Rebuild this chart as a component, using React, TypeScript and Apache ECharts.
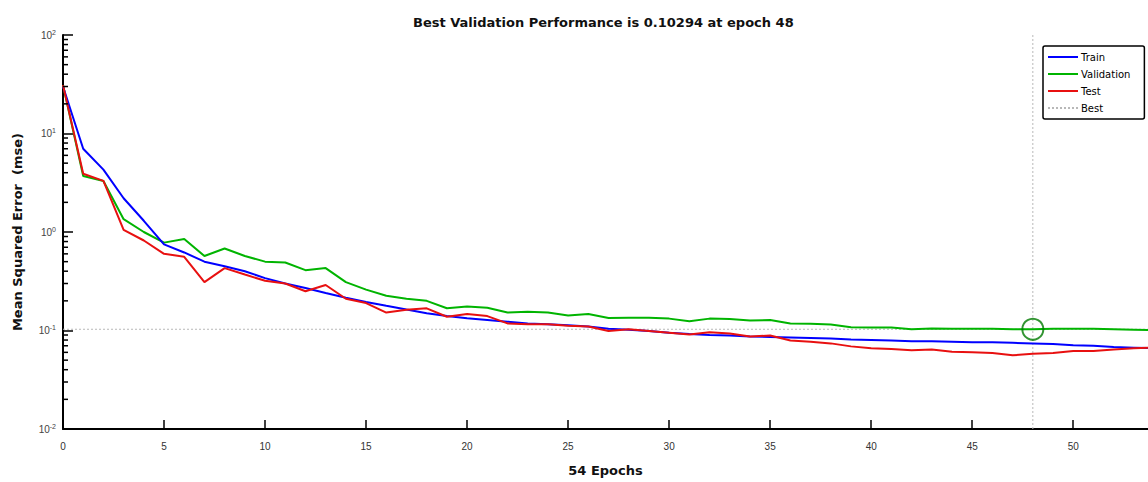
import React, { useEffect, useRef } from "react";
import * as echarts from "echarts";

const titleText = "Best Validation Performance is 0.10294 at epoch 48";
const xName = "54 Epochs";
const yName = "Mean Squared Error  (mse)";
const legendNames = ["Train", "Validation", "Test", "Best"];

const epochs = Array.from({ length: 55 }, (_, i) => i);

const train = [
  30, 7.0, 4.3, 2.2, 1.3, 0.75, 0.62, 0.5, 0.45, 0.4,
  0.34, 0.3, 0.27, 0.24, 0.215, 0.195, 0.178, 0.163, 0.15, 0.14,
  0.133, 0.128, 0.123, 0.118, 0.116, 0.113, 0.11, 0.104, 0.102, 0.099,
  0.095, 0.092, 0.09, 0.089, 0.087, 0.086, 0.085, 0.084, 0.083, 0.081,
  0.08, 0.079, 0.078, 0.078, 0.077, 0.076, 0.076, 0.075, 0.074, 0.073,
  0.071, 0.07, 0.068, 0.067, 0.066,
];

const validation = [
  31, 3.7, 3.3, 1.35, 1.0, 0.78, 0.85, 0.57, 0.68, 0.57,
  0.5, 0.49, 0.41, 0.43, 0.31, 0.26, 0.225, 0.21, 0.2, 0.168,
  0.175, 0.17, 0.152, 0.155, 0.152, 0.142, 0.147, 0.134, 0.135, 0.135,
  0.132, 0.124, 0.132, 0.131, 0.126, 0.128, 0.118, 0.117, 0.115, 0.108,
  0.107, 0.107, 0.103, 0.105, 0.104, 0.104, 0.104, 0.103, 0.10294, 0.104,
  0.104, 0.104, 0.103, 0.102, 0.101,
];

const test = [
  31, 3.9, 3.3, 1.05, 0.82, 0.6, 0.56, 0.31, 0.43, 0.37,
  0.32, 0.3, 0.25, 0.29, 0.21, 0.19, 0.152, 0.162, 0.168, 0.138,
  0.147, 0.14, 0.118, 0.116, 0.116, 0.112, 0.11, 0.099, 0.103, 0.099,
  0.095, 0.091, 0.096, 0.093, 0.087, 0.089, 0.079, 0.077, 0.074, 0.069,
  0.066, 0.065, 0.063, 0.064, 0.061, 0.06, 0.059, 0.056, 0.058, 0.059,
  0.062, 0.062, 0.064, 0.066, 0.067,
];

const bestEpoch = 48;
const bestValue = 0.10294;
const xMin = 0;
const xMax = 53.7; // visible part of the 0–54 epoch axis (the right end is cropped)
const yMin = 0.01;
const yMax = 100;

const minorTickValues: number[] = [];
for (let e = -2; e < 2; e++) {
  for (let m = 2; m <= 9; m++) minorTickValues.push(m * Math.pow(10, e));
}

const dottedIcon =
  "path://M0,0h2v2h-2zM4,0h2v2h-2zM8,0h2v2h-2zM12,0h2v2h-2zM16,0h2v2h-2zM20,0h2v2h-2zM24,0h2v2h-2zM28,0h2v2h-2z";

export default function App() {
  const ref = useRef<HTMLDivElement>(null);
  useEffect(() => {
    document.body.style.margin = "0";
    if (!ref.current) return;
    const chart = echarts.init(ref.current, undefined, { renderer: "svg" });
    const pair = (arr: number[]) => arr.map((v, i) => [epochs[i], v]);
    const font = "DejaVu Sans, Verdana, sans-serif";
    const tickFont = "Liberation Sans, Arial, sans-serif";
    chart.setOption({
      animation: false,
      backgroundColor: "#ffffff",
      textStyle: { fontFamily: font },
      title: {
        text: titleText,
        left: 408,
        top: 11,
        textStyle: { fontSize: 13, fontWeight: "bold", color: "#111", fontFamily: font },
      },
      legend: {
        orient: "vertical",
        left: 1043,
        top: 46,
        data: [
          { name: legendNames[0], icon: "rect" },
          { name: legendNames[1], icon: "rect" },
          { name: legendNames[2], icon: "rect" },
          { name: legendNames[3], icon: dottedIcon },
        ],
        itemWidth: 30,
        itemHeight: 2,
        itemGap: 5,
        padding: [5, 14, 5, 5],
        borderColor: "#000",
        borderWidth: 1.5,
        borderRadius: 2,
        backgroundColor: "#fff",
        textStyle: { fontSize: 10, lineHeight: 12, color: "#000", fontFamily: font, padding: [0, 0, 0, -2] },
      },
      grid: { left: 63, top: 35, right: 0, height: 400, containLabel: false },
      xAxis: {
        type: "value",
        min: xMin,
        max: xMax,
        interval: 5,
        name: xName,
        nameLocation: "middle",
        nameGap: 35,
        nameTextStyle: { fontSize: 13, color: "#111", fontWeight: "bold", fontFamily: font },
        axisLine: { lineStyle: { color: "#000", width: 2 } },
        axisTick: { inside: true, length: 9, lineStyle: { color: "#000", width: 1.5 } },
        axisLabel: { fontSize: 10, color: "#333", margin: 12, showMaxLabel: false, fontFamily: tickFont },
        splitLine: { show: false },
      },
      yAxis: {
        type: "log",
        logBase: 10,
        min: yMin,
        max: yMax,
        interval: 1,
        name: yName,
        nameLocation: "middle",
        nameGap: 39,
        nameTextStyle: { fontSize: 13, color: "#111", fontWeight: "bold", fontFamily: font },
        axisLine: { show: true, lineStyle: { color: "#000", width: 2 } },
        axisTick: { show: true, inside: true, length: 10, lineStyle: { color: "#000", width: 1.5 } },
        axisLabel: {
          margin: 7,
          formatter: (v: number) => `{b|10}{s|${Math.round(Math.log10(v))}}`,
          rich: {
            b: { fontSize: 10, color: "#444", fontFamily: tickFont },
            s: { fontSize: 7, color: "#444", padding: [0, 0, 6, 0], fontFamily: tickFont },
          },
        },
        splitLine: { show: false },
      },
      series: [
        {
          name: "Train",
          type: "line",
          data: pair(train),
          symbol: "none",
          lineStyle: { color: "#0000ff", width: 2 },
          itemStyle: { color: "#0000ff" },
          z: 4,
        },
        {
          name: "Validation",
          type: "line",
          data: pair(validation),
          symbol: "none",
          lineStyle: { color: "#00b400", width: 2 },
          itemStyle: { color: "#00b400" },
          z: 3,
        },
        {
          name: "Test",
          type: "line",
          data: pair(test),
          symbol: "none",
          lineStyle: { color: "#e81010", width: 2 },
          itemStyle: { color: "#e81010" },
          z: 5,
        },
        {
          name: "Best",
          type: "line",
          data: [[bestEpoch, yMin], [bestEpoch, yMax], "-", [xMin, bestValue], [xMax, bestValue]],
          connectNulls: false,
          symbol: "none",
          lineStyle: { color: "#b8b8b8", width: 1, type: [2, 2] },
          itemStyle: { color: "#b8b8b8" },
          z: 1,
        },
        {
          name: "BestPoint",
          type: "scatter",
          data: [[bestEpoch, bestValue]],
          symbol: "circle",
          symbolSize: 21,
          itemStyle: { color: "rgba(0,0,0,0)", borderColor: "#007a00", borderWidth: 2 },
          z: 6,
          silent: true,
        },
        {
          name: "minorTicks",
          type: "custom",
          data: minorTickValues.map((v) => [xMin, v]),
          silent: true,
          clip: false,
          renderItem: (_params: any, api: any) => {
            const p = api.coord([api.value(0), api.value(1)]);
            return {
              type: "line",
              shape: { x1: p[0], y1: p[1], x2: p[0] + 5, y2: p[1] },
              style: { stroke: "#000", lineWidth: 1.5 },
            };
          },
          z: 7,
        },
      ],
    });
    return () => chart.dispose();
  }, []);
  return <div ref={ref} style={{ width: 1148, height: 482 }} />;
}
